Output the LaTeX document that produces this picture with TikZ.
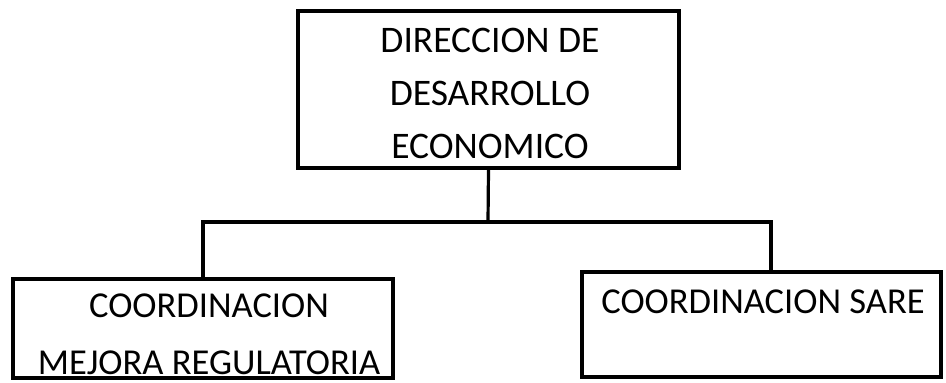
\documentclass[tikz,border=0pt]{standalone}
\usepackage{fontspec}
\setmainfont{Carlito}
\begin{document}
\begin{tikzpicture}[x=1pt,y=-1pt,
  box/.style={draw=black,line width=3.2pt,inner sep=0pt},
  lbl/.style={font=\fontsize{37.5}{53}\selectfont,align=center,inner sep=0pt},
  lblb/.style={font=\fontsize{36.5}{57}\selectfont,align=center,inner sep=0pt},
  link/.style={draw=black,line width=3.2pt}]
\useasboundingbox[fill=white] (0,0) rectangle (946,383);
\node[box,minimum width=381pt,minimum height=157pt] (top) at (488.5,89.5) {};
\node[box,minimum width=380pt,minimum height=99pt] (left) at (203,328.5) {};
\node[box,minimum width=359pt,minimum height=105pt] (right) at (761.5,324.5) {};
\node[lbl] (toptext) at (490,93) {DIRECCION DE\\DESARROLLO\\ECONOMICO};
\node[lblb] (lefttext) at (209,334) {COORDINACION\\MEJORA REGULATORIA};
\node[lblb,anchor=base] (righttext) at (763,313) {COORDINACION SARE};
\coordinate (j) at (488,222);
\coordinate (rt) at (771,0);
\draw[link] (top.south) -- (j);
\draw[link] (j) -| (left.north);
\draw[link] (j) -| (right.north -| rt);
\end{tikzpicture}
\end{document}
